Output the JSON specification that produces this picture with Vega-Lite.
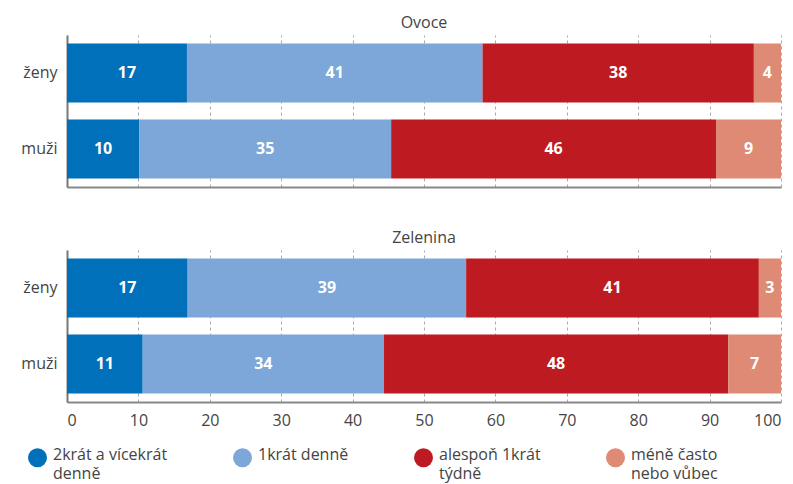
{
  "$schema": "https://vega.github.io/schema/vega-lite/v6.json",
  "background": "white",
  "padding": {"left": 20, "right": 5, "top": 15, "bottom": 5},
  "datasets": {
    "d": [
      {"panel": "Ovoce", "sex": "ženy", "cat": "2krát a vícekrát denně", "idx": 1, "value": 16.8, "label": "17"},
      {"panel": "Ovoce", "sex": "ženy", "cat": "1krát denně", "idx": 2, "value": 41.4, "label": "41"},
      {"panel": "Ovoce", "sex": "ženy", "cat": "alespoň 1krát týdně", "idx": 3, "value": 38.0, "label": "38"},
      {"panel": "Ovoce", "sex": "ženy", "cat": "méně často nebo vůbec", "idx": 4, "value": 3.8, "label": "4"},
      {"panel": "Ovoce", "sex": "muži", "cat": "2krát a vícekrát denně", "idx": 1, "value": 10.1, "label": "10"},
      {"panel": "Ovoce", "sex": "muži", "cat": "1krát denně", "idx": 2, "value": 35.3, "label": "35"},
      {"panel": "Ovoce", "sex": "muži", "cat": "alespoň 1krát týdně", "idx": 3, "value": 45.5, "label": "46"},
      {"panel": "Ovoce", "sex": "muži", "cat": "méně často nebo vůbec", "idx": 4, "value": 9.1, "label": "9"},
      {"panel": "Zelenina", "sex": "ženy", "cat": "2krát a vícekrát denně", "idx": 1, "value": 16.9, "label": "17"},
      {"panel": "Zelenina", "sex": "ženy", "cat": "1krát denně", "idx": 2, "value": 39.0, "label": "39"},
      {"panel": "Zelenina", "sex": "ženy", "cat": "alespoň 1krát týdně", "idx": 3, "value": 41.0, "label": "41"},
      {"panel": "Zelenina", "sex": "ženy", "cat": "méně často nebo vůbec", "idx": 4, "value": 3.1, "label": "3"},
      {"panel": "Zelenina", "sex": "muži", "cat": "2krát a vícekrát denně", "idx": 1, "value": 10.6, "label": "11"},
      {"panel": "Zelenina", "sex": "muži", "cat": "1krát denně", "idx": 2, "value": 33.8, "label": "34"},
      {"panel": "Zelenina", "sex": "muži", "cat": "alespoň 1krát týdně", "idx": 3, "value": 48.2, "label": "48"},
      {"panel": "Zelenina", "sex": "muži", "cat": "méně často nebo vůbec", "idx": 4, "value": 7.4, "label": "7"}
    ]
  },
  "config": {
    "font": "Open Sans",
    "view": {"stroke": null},
    "title": {"fontSize": 16, "fontWeight": "normal", "color": "#444", "anchor": "middle", "offset": 4},
    "axis": {"labelFont": "Open Sans", "labelColor": "#444", "labelFontSize": 15},
    "legend": {"title": null, "orient": "none", "legendX": -39, "legendY": 413, "direction": "horizontal", "columns": 4, "columnPadding": 65,
      "symbolType": "circle", "symbolSize": 360, "symbolStrokeWidth": 0, "symbolOpacity": 1,
      "labelFontSize": 16, "labelColor": "#444", "labelFont": "Open Sans", "labelLimit": 300, "labelOffset": 6, "labelBaseline": "alphabetic"}
  },
  "spacing": 43,
  "vconcat": [
    {
      "title": "Ovoce",
      "width": 714,
      "height": 152,
      "data": {"name": "d"},
      "transform": [
        {"filter": "datum.panel == 'Ovoce'"},
        {"stack": "value", "groupby": ["panel", "sex"], "sort": [{"field": "idx", "order": "ascending"}], "as": ["v0", "v1"]},
        {"calculate": "(datum.v0 + datum.v1) / 2", "as": "mid"}
      ],
      "encoding": {
        "y": {"field": "sex", "type": "nominal", "sort": ["ženy", "muži"],
          "scale": {"paddingInner": 0.224, "paddingOuter": 0.112},
          "axis": {"title": null, "ticks": false, "domainColor": "#777", "domainWidth": 2, "labelPadding": 10, "labelFontSize": 16}}
      },
      "layer": [
        {
          "mark": {"type": "bar"},
          "encoding": {
            "x": {"field": "v0", "type": "quantitative", "scale": {"domain": [0, 100], "nice": false},
              "axis": {"title": null, "labels": false, "values": [0,10,20,30,40,50,60,70,80,90,100], "grid": true, "gridDash": [3, 3], "gridColor": "#aaa", "ticks": false, "domainColor": "#888", "domainWidth": 2}},
            "x2": {"field": "v1"},
            "color": {"field": "cat", "type": "nominal",
              "scale": {"domain": ["2krát a vícekrát denně", "1krát denně", "alespoň 1krát týdně", "méně často nebo vůbec"], "range": ["#0070ba", "#7da7d9", "#be1a21", "#de8a74"]},
              "legend": {"labelExpr": "datum.label == '2krát a vícekrát denně' ? ['2krát a vícekrát', 'denně'] : datum.label == 'alespoň 1krát týdně' ? ['alespoň 1krát', 'týdně'] : datum.label == 'méně často nebo vůbec' ? ['méně často', 'nebo vůbec'] : [datum.label, '']",
                "encoding": {"labels": {"lineHeight": {"value": 19}, "dy": {"value": 2}}}}}
          }
        },
        {
          "mark": {"type": "text", "color": "white", "fontWeight": "bold", "fontSize": 16, "baseline": "middle", "align": "center"},
          "encoding": {
            "x": {"field": "mid", "type": "quantitative"},
            "text": {"field": "label"}
          }
        }
      ]
    },
    {
      "title": "Zelenina",
      "width": 714,
      "height": 152,
      "data": {"name": "d"},
      "transform": [
        {"filter": "datum.panel == 'Zelenina'"},
        {"stack": "value", "groupby": ["panel", "sex"], "sort": [{"field": "idx", "order": "ascending"}], "as": ["v0", "v1"]},
        {"calculate": "(datum.v0 + datum.v1) / 2", "as": "mid"}
      ],
      "encoding": {
        "y": {"field": "sex", "type": "nominal", "sort": ["ženy", "muži"],
          "scale": {"paddingInner": 0.224, "paddingOuter": 0.112},
          "axis": {"title": null, "ticks": false, "domainColor": "#777", "domainWidth": 2, "labelPadding": 10, "labelFontSize": 16}}
      },
      "layer": [
        {
          "mark": {"type": "bar"},
          "encoding": {
            "x": {"field": "v0", "type": "quantitative", "scale": {"domain": [0, 100], "nice": false},
              "axis": {"title": null, "values": [0,10,20,30,40,50,60,70,80,90,100], "grid": true, "gridDash": [3, 3], "gridColor": "#aaa", "ticks": false, "domainColor": "#888", "domainWidth": 2, "labelPadding": 10, "labelFontSize": 16}},
            "x2": {"field": "v1"},
            "color": {"field": "cat", "type": "nominal",
              "scale": {"domain": ["2krát a vícekrát denně", "1krát denně", "alespoň 1krát týdně", "méně často nebo vůbec"], "range": ["#0070ba", "#7da7d9", "#be1a21", "#de8a74"]},
              "legend": {"labelExpr": "datum.label == '2krát a vícekrát denně' ? ['2krát a vícekrát', 'denně'] : datum.label == 'alespoň 1krát týdně' ? ['alespoň 1krát', 'týdně'] : datum.label == 'méně často nebo vůbec' ? ['méně často', 'nebo vůbec'] : [datum.label, '']",
                "encoding": {"labels": {"lineHeight": {"value": 19}, "dy": {"value": 2}}}}}
          }
        },
        {
          "mark": {"type": "text", "color": "white", "fontWeight": "bold", "fontSize": 16, "baseline": "middle", "align": "center"},
          "encoding": {
            "x": {"field": "mid", "type": "quantitative"},
            "text": {"field": "label"}
          }
        }
      ]
    }
  ]
}
